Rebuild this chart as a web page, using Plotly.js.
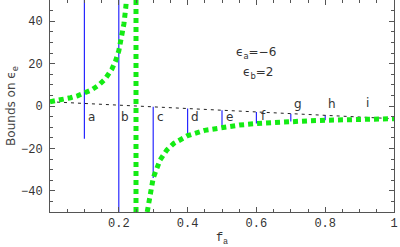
<!DOCTYPE html>
<html><head><meta charset="utf-8">
<script src="https://cdn.plot.ly/plotly-3.0.1.min.js"></script>
<style>html,body{margin:0;padding:0;background:#fff;}#chart{width:400px;height:247px;}</style>
</head><body><div id="chart"></div>
<script>
// Hashin-type bound, left branch
const leftF   = [0, 0.02, 0.04, 0.06, 0.08, 0.10, 0.12, 0.14, 0.16, 0.18, 0.19, 0.20, 0.21, 0.215, 0.22, 0.2222];
const leftEps = [2, 2.52, 3.14, 3.89, 4.82, 6.00, 7.54, 9.64, 12.67, 17.43, 21.0, 26.0, 33.5, 38.86, 46.0, 50];
// right branch
const rightF   = [0.2826, 0.29, 0.30, 0.32, 0.34, 0.36, 0.40, 0.45, 0.50, 0.55, 0.60, 0.65, 0.70, 0.75, 0.80, 0.85, 0.90, 0.95, 1.00];
const rightEps = [-50, -41.5, -34.0, -25.43, -20.67, -17.64, -14.0, -11.5, -10.0, -9.0, -8.29, -7.75, -7.33, -7.0, -6.73, -6.5, -6.31, -6.14, -6.0];
// asymptote
const poleF = [0.25, 0.25];
const poleEps = [-50, 50];
// Wiener (dashed) line
const wienerF = [0, 1];
const wienerEps = [2, -6];
// vertical bound segments
const segF      = [0.1, 0.2, 0.3, 0.4, 0.5, 0.6, 0.7, 0.8, 0.9];
const segTop    = [50, 50, -0.4, -1.2, -2.0, -2.8, -3.6, -4.4, -5.2];
const segBottom = [-15.4, -50, -34.0, -14.0, -10.0, -8.29, -7.33, -6.73, -6.31];
const segLabels = ['a','b','c','d','e','f','g','h','i'];
const labelF    = [0.12, 0.219, 0.32, 0.421, 0.521, 0.62, 0.722, 0.821, 0.923];
const labelEps  = [-5.2, -5.2, -5.2, -5.0, -5.2, -4.8, 1.1, 1.1, 1.2];

const green = 'rgb(20,235,20)';
const traces = [];
const sx = [], sy = [];
segF.forEach((f,i)=>{ sx.push(f,f,null); sy.push(segTop[i],segBottom[i],null); });
traces.push({x:sx, y:sy, mode:'lines', line:{color:'rgb(40,40,255)', width:1.2}, hoverinfo:'skip'});
traces.push({x:wienerF, y:wienerEps, mode:'lines', line:{color:'#222', width:1, dash:'3px,4px'}, hoverinfo:'skip'});
const gl = {color:green, width:5, dash:'5px,4px'};
traces.push({x:leftF, y:leftEps, mode:'lines', line:gl, hoverinfo:'skip'});
traces.push({x:poleF, y:poleEps, mode:'lines', line:gl, hoverinfo:'skip'});
traces.push({x:rightF, y:rightEps, mode:'lines', line:gl, hoverinfo:'skip'});

const annFont = {family:'DejaVu Sans', size:12, color:'#333'};
const annotations = segLabels.map((t,i)=>({x:labelF[i], y:labelEps[i], text:t, showarrow:false, font:annFont, xanchor:'center', yanchor:'middle'}));
annotations.push({x:0.6, y:25, text:'ϵ<sub>a</sub>=−6', showarrow:false, font:annFont, xanchor:'center', yanchor:'middle'});
annotations.push({x:0.605, y:15.8, text:'ϵ<sub>b</sub>=2', showarrow:false, font:annFont, xanchor:'center', yanchor:'middle'});

const mono = 'Liberation Mono, Courier New, monospace';
const tickFont = {family:mono, size:12, color:'#333'};
const layout = {
  width:400, height:247,
  margin:{l:50, r:6, t:0, b:35},
  paper_bgcolor:'#fff', plot_bgcolor:'#fff',
  showlegend:false,
  xaxis:{range:[0,1], tickvals:[0.2,0.4,0.6,0.8,1], ticktext:['0.2','0.4','0.6','0.8','1'],
    ticks:'inside', ticklen:5, tickcolor:'#555', showline:true, linecolor:'#555', linewidth:1, mirror:'ticks',
    showgrid:false, zeroline:false, tickfont:tickFont,
    minor:{dtick:0.05, tick0:0, ticks:'inside', ticklen:3, tickcolor:'#555', showgrid:false},
    title:{text:'f<sub>a</sub>', font:{family:mono, size:12, color:'#333'}, standoff:10}},
  yaxis:{range:[-50,50], tickvals:[-40,-20,0,20,40], ticktext:['−40','−20','0','20','40'],
    ticks:'inside', ticklen:5, tickcolor:'#555', showline:true, linecolor:'#555', linewidth:1, mirror:'ticks',
    showgrid:false, zeroline:false, tickfont:tickFont, ticklabelstandoff:4,
    minor:{dtick:5, tick0:0, ticks:'inside', ticklen:3, tickcolor:'#555', showgrid:false},
    title:{text:'Bounds on ϵ<sub>e</sub>', font:{family:'DejaVu Sans', size:12, color:'#444'}, standoff:2}},
  annotations:annotations
};
Plotly.newPlot('chart', traces, layout, {staticPlot:true, displayModeBar:false});
</script></body></html>
